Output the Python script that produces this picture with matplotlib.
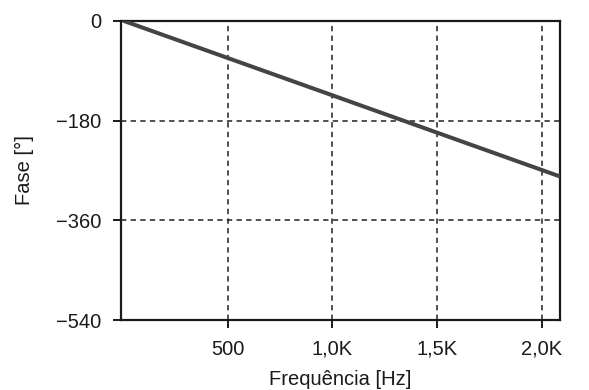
import matplotlib
matplotlib.use("Agg")
import matplotlib.pyplot as plt

freq = [0, 2087]
phase = [0, -281]
xticks = [500, 1000, 1500, 2000]
xticklabels = ["500", "1,0K", "1,5K", "2,0K"]
yticks = [0, -180, -360, -540]
yticklabels = ["0", "\u2212180", "\u2212360", "\u2212540"]

plt.rcParams['font.family'] = ['Liberation Sans', 'DejaVu Sans']
fig = plt.figure(figsize=(5.89, 3.9), dpi=100)
ax = fig.add_axes([0.205, 0.179, 0.746, 0.768])
ax.plot(freq, phase, color='#444444', lw=2.9, solid_capstyle='butt', zorder=3)
ax.set_xlim(-11, 2087)
ax.set_ylim(-540, 0)
ax.set_xticks(xticks)
ax.set_xticklabels(xticklabels)
ax.set_yticks(yticks)
ax.set_yticklabels(yticklabels)
ax.grid(True, color='#222222', linestyle=(0, (3.5, 2.8)), linewidth=1.1)
for s in ax.spines.values():
    s.set_linewidth(1.6)
    s.set_color('#1a1a1a')
ax.tick_params(axis='both', direction='out', length=6, width=1.4, labelsize=14.5, color='#1a1a1a', labelcolor='#1a1a1a')
ax.tick_params(axis='x', pad=8)
ax.tick_params(axis='y', pad=8)
ax.set_xlabel("Frequência [Hz]", fontsize=14.5, color='#1a1a1a', labelpad=8)
ax.set_ylabel("Fase [°]", fontsize=14.5, color='#1a1a1a', labelpad=16)
fig.savefig("out.png", dpi=100)
